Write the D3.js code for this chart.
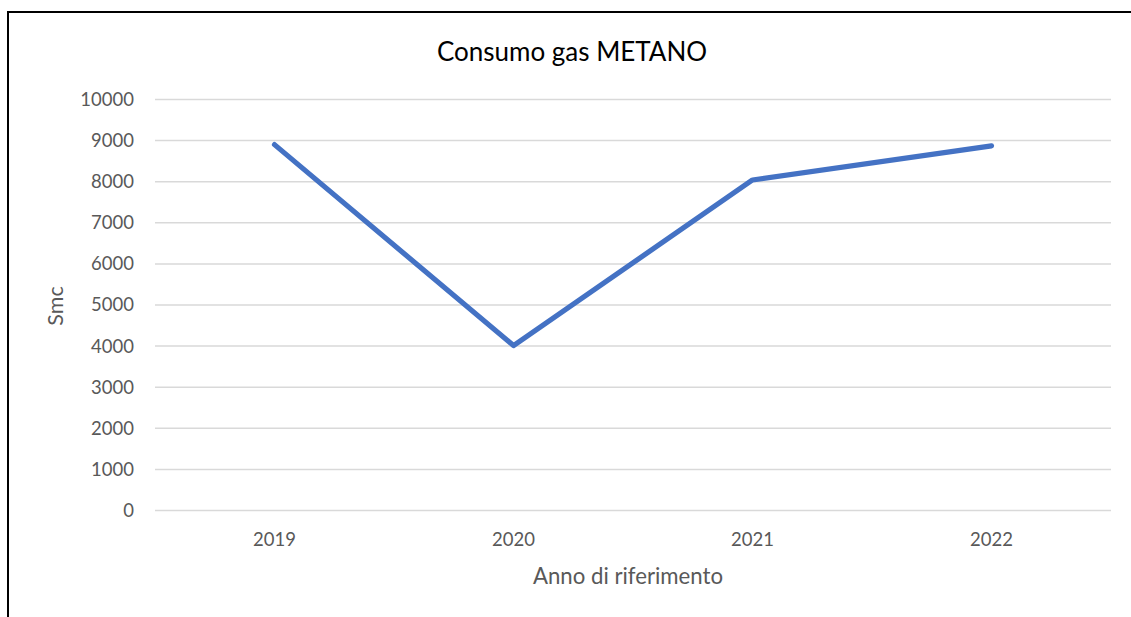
<!DOCTYPE html>
<html>
<head>
<meta charset="utf-8">
<script src="https://cdn.jsdelivr.net/npm/d3@7"></script>
<style>
  html, body { margin: 0; padding: 0; background: #fff; }
  svg { display: block; }
  text { font-family: Lato, "Open Sans", sans-serif; }
</style>
</head>
<body>
<svg id="chart" width="1131" height="617"></svg>
<script>
const categories = ["2019", "2020", "2021", "2022"];
const values = [8890, 4000, 8030, 8860];
const yTicks = [0, 1000, 2000, 3000, 4000, 5000, 6000, 7000, 8000, 9000, 10000];
const title = "Consumo gas METANO";
const xTitle = "Anno di riferimento";
const yTitle = "Smc";

const svg = d3.select("#chart");
const plot = { left: 155, right: 1111, top: 99, bottom: 510 };

svg.append("rect").attr("x", 8).attr("y", 12).attr("width", 1300).attr("height", 800)
  .attr("fill", "#fff").attr("stroke", "#000").attr("stroke-width", 2);

const x = d3.scaleBand().domain(categories).range([plot.left, plot.right]).padding(0);
const y = d3.scaleLinear().domain([0, 10000]).range([plot.bottom, plot.top]);

const yAxis = d3.axisLeft(y).tickValues(yTicks).tickSize(-(plot.right - plot.left)).tickPadding(21).tickFormat(d3.format("d"));
const gy = svg.append("g").attr("transform", `translate(${plot.left},0)`).call(yAxis);
gy.select(".domain").remove();
gy.selectAll(".tick line").attr("stroke", "#d9d9d9").attr("stroke-width", 1.5);
gy.selectAll(".tick text").attr("fill", "#595959").attr("font-size", 18.5).attr("dy", "0.35em");

const xAxis = d3.axisBottom(x).tickSize(0).tickPadding(23);
const gx = svg.append("g").attr("transform", `translate(0,${plot.bottom})`).call(xAxis);
gx.select(".domain").remove();
gx.selectAll(".tick text").attr("fill", "#595959").attr("font-size", 18.5);

const line = d3.line()
  .x((d, i) => x(categories[i]) + x.bandwidth() / 2)
  .y(d => y(d));
svg.append("path").datum(values).attr("d", line)
  .attr("fill", "none").attr("stroke", "#4472C4").attr("stroke-width", 5.2)
  .attr("stroke-linejoin", "round").attr("stroke-linecap", "round");

svg.append("text").attr("x", 572).attr("y", 61).attr("text-anchor", "middle")
  .attr("font-size", 26).attr("fill", "#000").text(title);

svg.append("text").attr("x", 628).attr("y", 584).attr("text-anchor", "middle")
  .attr("font-size", 22.2).attr("fill", "#595959").text(xTitle);

svg.append("text").attr("transform", "translate(63,306) rotate(-90)").attr("text-anchor", "middle")
  .attr("font-size", 21.5).attr("fill", "#595959").text(yTitle);
</script>
</body>
</html>
